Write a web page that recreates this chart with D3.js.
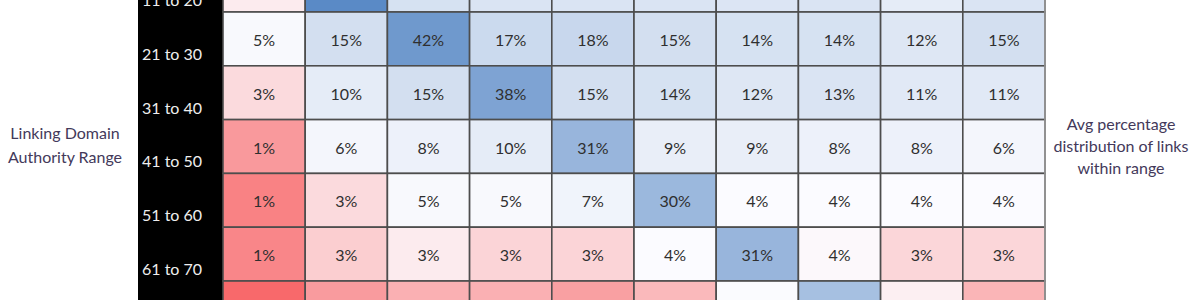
<!DOCTYPE html>
<html>
<head>
<meta charset="utf-8">
<script src="https://cdn.jsdelivr.net/npm/d3@7"></script>
<style>
  html, body { margin: 0; padding: 0; background: #fff; }
  svg { display: block; font-family: Lato, "Open Sans", sans-serif; }
</style>
</head>
<body>
<svg id="chart" width="1200" height="300"></svg>
<script>
// linking domain authority ranges (rows, top to bottom)
const rowLabels = ["11 to 20", "21 to 30", "31 to 40", "41 to 50", "51 to 60", "61 to 70", "71 to 80"];
// target authority ranges (columns)
const colLabels = ["1 to 10", "11 to 20", "21 to 30", "31 to 40", "41 to 50",
                   "51 to 60", "61 to 70", "71 to 80", "81 to 90", "91 to 100"];

// avg % of links per cell, unrounded values estimated from the shading
const row11 = [3.4, 47.7, 14, 13, 13, 13, 12.5, 13, 10, 13];
const row21 = [5, 15, 42, 17, 18, 15, 14, 14, 12, 15];
const row31 = [3.0, 10, 15, 38, 15, 14, 12, 13, 11, 11];
const row41 = [1.45, 6, 8, 10, 31, 9, 9, 8, 8, 6];
const row51 = [0.9, 3.0, 5, 5, 7, 30, 4, 4, 4, 4];
const row61 = [1.0, 2.7, 3.4, 2.85, 2.85, 4, 31, 3.7, 2.9, 2.9];
const row71 = [0.3, 1.5, 2.0, 2.0, 1.6, 2.2, 4.3, 27, 3.5, 2.1];
const rowValues = [row11, row21, row31, row41, row51, row61, row71];

const midValue = 3.8; // white point of the 3-colour scale

const leftTitle = ["Linking Domain", "Authority Range"];
const rightTitle = ["Avg percentage", "distribution of links", "within range"];

const W = 1200, H = 300;
const svg = d3.select("#chart");

const cells = [];
rowValues.forEach((vals, i) => {
  vals.forEach((v, j) => cells.push({row: rowLabels[i], col: colLabels[j], value: v}));
});

const x = d3.scaleBand().domain(colLabels).range([223, 1045]);
// table continues above and below the visible window
const y = d3.scaleBand().domain(rowLabels).range([-41.8, 334.8]);

const allVals = cells.map(d => d.value);
const color = d3.scaleLinear()
  .domain([d3.min(allVals), midValue, d3.max(allVals)])
  .range(["#F8696B", "#FCFCFF", "#5A8AC6"])
  .interpolate(d3.interpolateRgb);

const fmt = d3.format(".0%");

// black label column
svg.append("rect")
  .attr("x", 138).attr("y", 0)
  .attr("width", x.range()[0] - 138).attr("height", H)
  .attr("fill", "#000");

svg.append("g")
  .selectAll("text")
  .data(rowLabels.filter(d => y(d) + y.bandwidth() - 6 < H + 4))
  .join("text")
    .attr("x", 142)
    .attr("y", d => y(d) + y.bandwidth() - 6)
    .attr("fill", "#eeeeee")
    .attr("font-size", 16)
    .text(d => d);

const cell = svg.append("g")
  .selectAll("g")
  .data(cells)
  .join("g")
    .attr("transform", d => `translate(${x(d.col)},${y(d.row)})`);

cell.append("rect")
  .attr("width", x.bandwidth())
  .attr("height", y.bandwidth())
  .attr("fill", d => color(d.value))
  .attr("stroke", "#4d4d4d")
  .attr("stroke-width", 1.6);

// only the labels whose cell centre is inside the window
cell.filter(d => {
    const cy = y(d.row) + y.bandwidth() / 2;
    return cy > 0 && cy < H;
  })
  .append("text")
  .attr("x", x.bandwidth() / 2)
  .attr("y", y.bandwidth() / 2 + 3)
  .attr("text-anchor", "middle")
  .attr("dominant-baseline", "middle")
  .attr("fill", "#2f2f2f")
  .attr("font-size", 16)
  .text(d => fmt(d.value / 100));

// lighter right border
svg.append("line")
  .attr("x1", x.range()[1]).attr("x2", x.range()[1])
  .attr("y1", 0).attr("y2", H)
  .attr("stroke", "#9a9a9a")
  .attr("stroke-width", 1.6);

svg.append("g")
  .selectAll("text")
  .data(leftTitle)
  .join("text")
    .attr("x", 65)
    .attr("y", (d, i) => 139 + i * 24)
    .attr("text-anchor", "middle")
    .attr("fill", "#43395a")
    .attr("font-size", 16)
    .text(d => d);

svg.append("g")
  .selectAll("text")
  .data(rightTitle)
  .join("text")
    .attr("x", 1121)
    .attr("y", (d, i) => 130 + i * 22)
    .attr("text-anchor", "middle")
    .attr("fill", "#43395a")
    .attr("font-size", 16)
    .text(d => d);
</script>
</body>
</html>
